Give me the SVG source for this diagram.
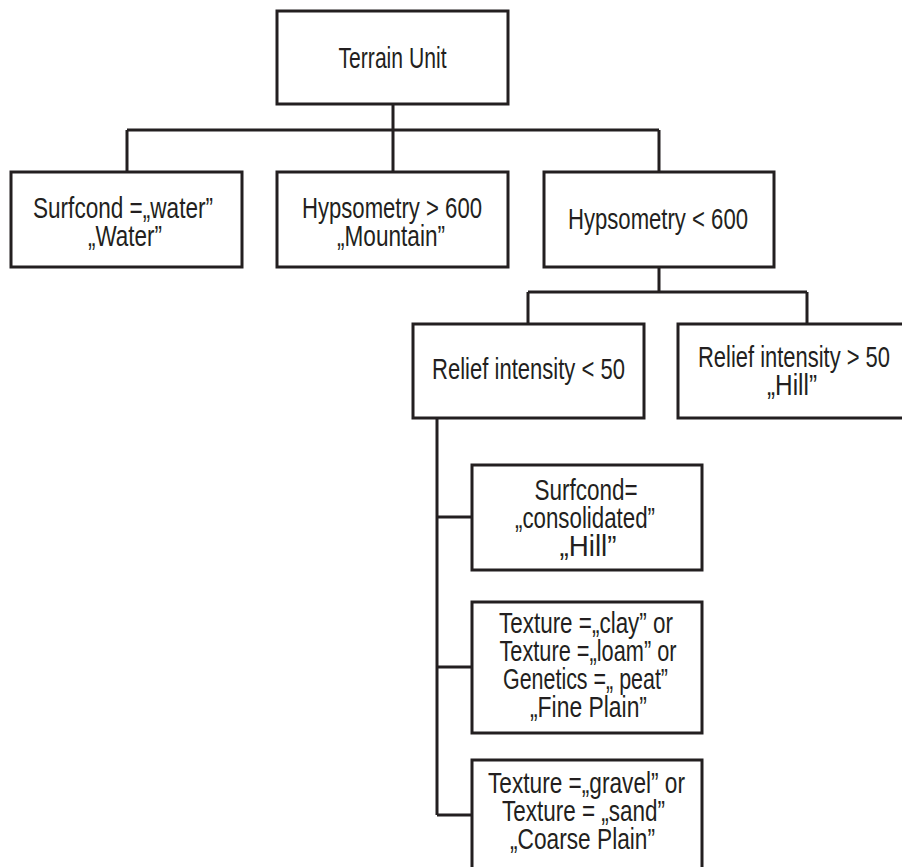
<svg xmlns="http://www.w3.org/2000/svg" width="902" height="867" viewBox="0 0 902 867">
<style>
.box{fill:#fff;stroke:#231f20;stroke-width:3}
.ln{fill:none;stroke:#231f20;stroke-width:3}
text{font-family:"Liberation Sans",Arial,sans-serif;font-size:30px;fill:#231f20;text-anchor:middle}
</style>
<rect width="902" height="867" fill="#fff"/>
<g id="connectors">
<path class="ln" d="M393 104V130M127 130H659M127 130V172M393 130V172M659 130V172"/>
<path class="ln" d="M659 267V292M528 292H807M528 292V324M807 292V324"/>
<path class="ln" d="M437 418V815M437 517H472M437 667H472M437 815H472"/>
</g>
<g id="terrain-unit">
<rect class="box" x="277" y="11" width="231" height="93"/>
<text x="392.5" y="68" textLength="108" lengthAdjust="spacingAndGlyphs">Terrain Unit</text>
</g>
<g id="water">
<rect class="box" x="11" y="172" width="231" height="95"/>
<text x="123" y="218" textLength="180" lengthAdjust="spacingAndGlyphs">Surfcond =„water”</text>
<text x="125" y="246" textLength="74" lengthAdjust="spacingAndGlyphs">„Water”</text>
</g>
<g id="mountain">
<rect class="box" x="277" y="172" width="231" height="95"/>
<text x="392" y="218" textLength="180" lengthAdjust="spacingAndGlyphs">Hypsometry &gt; 600</text>
<text x="391" y="246" textLength="108" lengthAdjust="spacingAndGlyphs">„Mountain”</text>
</g>
<g id="hyps-low">
<rect class="box" x="544" y="172" width="230" height="95"/>
<text x="658" y="229" textLength="180" lengthAdjust="spacingAndGlyphs">Hypsometry &lt; 600</text>
</g>
<g id="relief-low">
<rect class="box" x="413" y="324" width="231" height="94"/>
<text x="528.5" y="379" textLength="193" lengthAdjust="spacingAndGlyphs">Relief intensity &lt; 50</text>
</g>
<g id="relief-high">
<rect class="box" x="678" y="324" width="231" height="94"/>
<text x="794" y="367" textLength="192" lengthAdjust="spacingAndGlyphs">Relief intensity &gt; 50</text>
<text x="792" y="395" textLength="50" lengthAdjust="spacingAndGlyphs">„Hill”</text>
</g>
<g id="consolidated">
<rect class="box" x="472" y="465" width="230" height="105"/>
<text x="586" y="500" textLength="103" lengthAdjust="spacingAndGlyphs">Surfcond=</text>
<text x="585" y="528" textLength="140" lengthAdjust="spacingAndGlyphs">„consolidated”</text>
<text x="588" y="556" textLength="57" lengthAdjust="spacingAndGlyphs">„Hill”</text>
</g>
<g id="fine-plain">
<rect class="box" x="472" y="602" width="230" height="131"/>
<text x="586" y="633" textLength="174" lengthAdjust="spacingAndGlyphs">Texture =„clay” or</text>
<text x="588" y="661" textLength="177" lengthAdjust="spacingAndGlyphs">Texture =„loam” or</text>
<text x="585.5" y="689" textLength="165" lengthAdjust="spacingAndGlyphs">Genetics =„ peat”</text>
<text x="588.5" y="717" textLength="117" lengthAdjust="spacingAndGlyphs">„Fine Plain”</text>
</g>
<g id="coarse-plain">
<rect class="box" x="472" y="760" width="230" height="112"/>
<text x="586.5" y="793" textLength="197" lengthAdjust="spacingAndGlyphs">Texture =„gravel” or</text>
<text x="583.5" y="821" textLength="163" lengthAdjust="spacingAndGlyphs">Texture = „sand”</text>
<text x="582.5" y="849" textLength="145" lengthAdjust="spacingAndGlyphs">„Coarse Plain”</text>
</g>
</svg>
